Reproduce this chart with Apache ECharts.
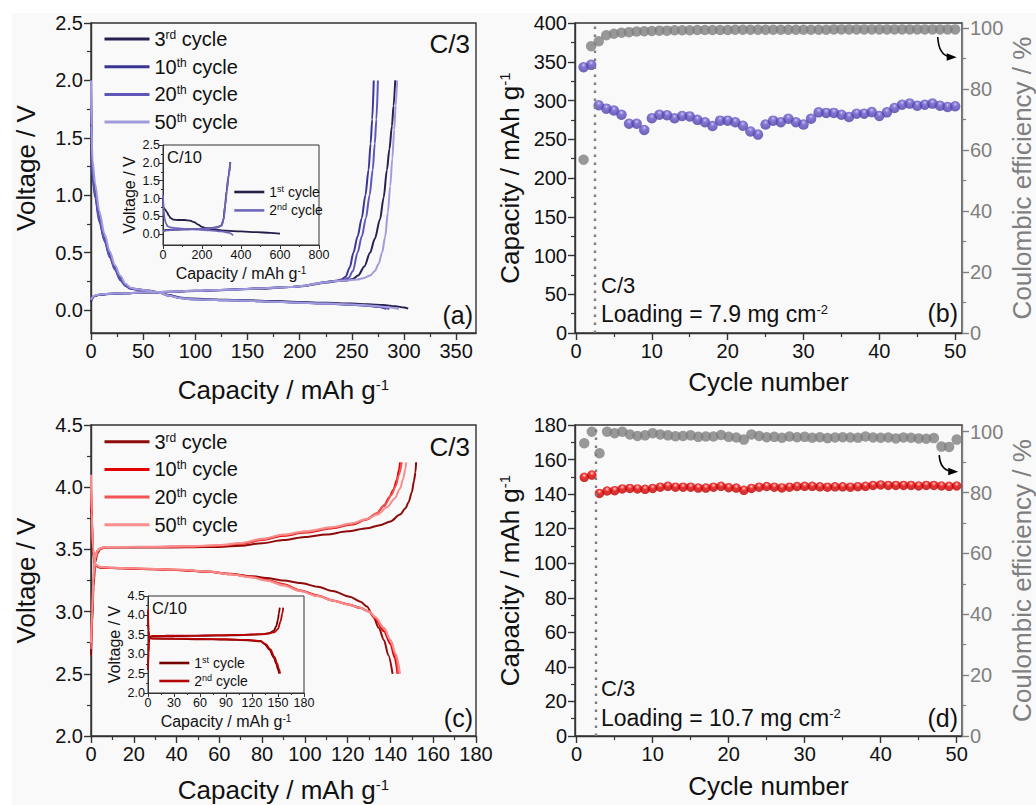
<!DOCTYPE html>
<html>
<head>
<meta charset="utf-8">
<script src="https://cdn.jsdelivr.net/npm/echarts@6/dist/echarts.min.js"></script>
<style>
html, body { margin: 0; padding: 0; background: #fff; }
#bg { position: absolute; left: 12px; top: 13px; width: 1024px; height: 792px; background: #f9f9f9; }
#main { position: absolute; left: 0; top: 0; width: 1036px; height: 805px; }
</style>
</head>
<body>
<div id="bg"></div>
<div id="main"></div>
<script>
/* 4-panel figure: voltage profiles (a,c) + cycling (b,d), insets at C/10 */

// ---- (a) anode, C/3, [capacity mAh/g, voltage V] ----
var aDis3 = [[0,2.0],[0.4,1.45],[1.5,1.2],[4,1.02],[8,0.8],[13,0.62],[18,0.48],[23,0.37],[28,0.28],[33,0.22],[38,0.19],[45,0.18],[55,0.17],[65,0.155],[75,0.13],[85,0.11],[95,0.1],[110,0.095],[130,0.09],[150,0.085],[175,0.078],[200,0.07],[225,0.063],[250,0.056],[265,0.05],[280,0.043],[292,0.033],[300,0.022],[304,0.012]];
var aChg3 = [[0,0.07],[1,0.1],[3,0.12],[7,0.13],[15,0.138],[30,0.145],[50,0.15],[75,0.158],[100,0.165],[130,0.175],[160,0.185],[190,0.2],[205,0.21],[215,0.225],[225,0.24],[235,0.25],[245,0.258],[251,0.27],[256,0.3],[262,0.38],[267.5,0.5],[272,0.62],[277,0.79],[280.5,0.98],[283.6,1.22],[286,1.4],[288.4,1.6],[290,1.78],[291.6,2.0]];
var aDis10 = [[0,2.0],[0.4,1.4],[1.5,1.15],[4,0.98],[8,0.77],[13,0.6],[18,0.46],[23,0.35],[28,0.26],[33,0.21],[38,0.185],[45,0.175],[55,0.165],[65,0.15],[75,0.125],[85,0.105],[95,0.095],[110,0.09],[130,0.085],[150,0.08],[175,0.072],[200,0.064],[225,0.056],[250,0.046],[265,0.038],[275,0.028],[283,0.01]];
var aChg10 = [[0,0.08],[1,0.105],[3,0.122],[7,0.132],[15,0.14],[30,0.146],[50,0.152],[75,0.16],[100,0.167],[130,0.177],[160,0.188],[190,0.2],[205,0.212],[215,0.23],[225,0.245],[235,0.255],[240,0.265],[244,0.29],[248,0.37],[251.5,0.5],[255.5,0.64],[259.5,0.8],[263,1.0],[266,1.22],[268,1.45],[269.5,1.66],[271,2.0]];
var aDis20 = [[0,2.0],[0.4,1.42],[1.5,1.17],[4,1.0],[8,0.79],[13,0.61],[18,0.47],[23,0.36],[28,0.27],[33,0.215],[38,0.19],[45,0.178],[55,0.167],[65,0.152],[75,0.127],[85,0.107],[95,0.097],[110,0.091],[130,0.086],[150,0.081],[175,0.073],[200,0.065],[225,0.057],[250,0.047],[268,0.036],[279,0.024],[286,0.008]];
var aChg20 = [[0,0.085],[1,0.108],[3,0.123],[7,0.133],[15,0.14],[30,0.146],[50,0.152],[75,0.16],[100,0.167],[130,0.177],[160,0.188],[190,0.2],[205,0.212],[215,0.229],[225,0.244],[235,0.254],[242,0.262],[247,0.28],[251,0.34],[255.5,0.5],[259.5,0.64],[263.5,0.8],[267,1.0],[270,1.22],[272,1.45],[273.5,1.66],[275,2.0]];
var aDis50 = [[0,2.0],[0.3,1.6],[1.5,1.3],[4,1.1],[8,0.86],[13,0.66],[18,0.51],[23,0.39],[28,0.3],[33,0.23],[38,0.195],[45,0.18],[55,0.168],[65,0.15],[75,0.125],[85,0.105],[95,0.095],[110,0.09],[130,0.085],[150,0.08],[175,0.072],[200,0.064],[225,0.056],[250,0.048],[270,0.038],[285,0.025],[295,0.008]];
var aChg50 = [[0,0.09],[1,0.11],[3,0.125],[7,0.134],[15,0.14],[30,0.146],[50,0.152],[75,0.16],[100,0.167],[130,0.176],[160,0.187],[190,0.2],[205,0.212],[215,0.228],[225,0.243],[235,0.252],[245,0.258],[255,0.265],[262,0.28],[267.6,0.3],[272,0.34],[275.6,0.4],[279,0.5],[282,0.64],[284.5,0.85],[286.8,1.08],[288.8,1.32],[290.6,1.57],[292,1.78],[293.4,2.0]];

// inset (a), C/10
var iaDis1 = [[0,1.0],[2,0.75],[10,0.7],[20,0.62],[30,0.52],[40,0.45],[55,0.41],[80,0.4],[110,0.4],[140,0.38],[160,0.34],[180,0.27],[200,0.21],[220,0.17],[245,0.14],[280,0.12],[320,0.1],[400,0.08],[480,0.06],[550,0.04],[600,0.02]];
var iaChg1 = [[0,0.1],[20,0.12],[60,0.13],[120,0.14],[180,0.15],[240,0.17],[280,0.2],[300,0.25],[310,0.4],[318,0.8],[326,1.2],[335,1.6],[345,2.02]];
var iaDis2 = [[0,1.1],[3,0.7],[8,0.45],[15,0.3],[25,0.22],[40,0.19],[70,0.17],[120,0.15],[180,0.13],[240,0.11],[300,0.08],[340,0.04],[360,-0.03]];
var iaChg2 = [[0,0.09],[20,0.11],[60,0.125],[120,0.135],[180,0.15],[240,0.165],[280,0.19],[300,0.24],[312,0.45],[320,0.85],[328,1.25],[337,1.65],[345,2.0]];

// ---- (c) cathode, C/3 ----
var cChg3 = [[0,2.65],[0.5,2.9],[1.2,3.2],[2,3.4],[3,3.47],[4.5,3.505],[7,3.515],[15,3.515],[30,3.515],[45,3.517],[60,3.52],[70,3.53],[80,3.55],[90,3.575],[100,3.6],[110,3.62],[120,3.645],[129,3.67],[135,3.695],[140,3.725],[144.5,3.78],[147,3.83],[148.5,3.88],[150,3.96],[151,4.05],[151.7,4.12],[152,4.2]];
var cDis3 = [[0,3.95],[0.3,3.7],[1,3.45],[2,3.37],[4,3.355],[10,3.35],[20,3.345],[40,3.335],[55,3.32],[65,3.305],[75,3.285],[82,3.27],[90,3.25],[98,3.23],[106,3.2],[113,3.165],[121,3.12],[126,3.08],[129,3.04],[132,2.96],[134.5,2.87],[137,2.77],[139,2.65],[141,2.5]];
var cChg10 = [[0,2.75],[0.5,3.0],[1.2,3.28],[2,3.43],[3,3.49],[4.5,3.51],[7,3.52],[15,3.52],[30,3.52],[45,3.522],[60,3.53],[70,3.545],[80,3.575],[90,3.61],[100,3.635],[113,3.67],[122,3.7],[129,3.74],[133,3.78],[137,3.85],[139.5,3.92],[141.4,3.98],[143,4.06],[144,4.14],[144.5,4.2]];
var cDis10 = [[0,4.0],[0.3,3.75],[1,3.48],[2,3.37],[4,3.355],[10,3.35],[20,3.345],[40,3.335],[55,3.32],[65,3.3],[75,3.28],[82,3.255],[90,3.22],[98,3.17],[106,3.13],[113,3.09],[120,3.06],[126,3.03],[130,3.0],[133,2.94],[137,2.84],[140,2.74],[142,2.63],[143.3,2.5]];
var cChg20 = [[0,2.7],[0.5,2.95],[1.2,3.25],[2,3.42],[3,3.48],[4.5,3.505],[7,3.518],[15,3.518],[30,3.52],[45,3.523],[60,3.532],[70,3.548],[80,3.58],[90,3.615],[100,3.64],[113,3.675],[122,3.705],[129,3.745],[133.5,3.79],[137.5,3.86],[140.5,3.94],[142.5,4.01],[144,4.1],[145.3,4.2]];
var cDis20 = [[0,4.05],[0.3,3.78],[1,3.5],[2,3.375],[4,3.357],[10,3.352],[20,3.347],[40,3.337],[55,3.322],[65,3.302],[75,3.278],[82,3.252],[90,3.215],[98,3.165],[106,3.125],[113,3.087],[120,3.057],[126,3.028],[130,3.0],[133,2.95],[137,2.86],[140,2.77],[142.5,2.65],[143.7,2.5]];
var cChg50 = [[0,2.75],[0.5,3.0],[1.2,3.3],[2,3.44],[3,3.49],[4.5,3.51],[7,3.52],[15,3.52],[30,3.522],[45,3.525],[60,3.535],[70,3.552],[80,3.585],[90,3.62],[100,3.645],[113,3.68],[122,3.71],[129,3.745],[134,3.78],[138.5,3.84],[142,3.91],[144.5,3.99],[146,4.07],[147,4.15],[147.4,4.2]];
var cDis50 = [[0,4.1],[0.3,3.8],[1,3.5],[2,3.38],[4,3.36],[10,3.353],[20,3.348],[40,3.338],[55,3.322],[65,3.3],[75,3.275],[82,3.25],[90,3.21],[98,3.165],[106,3.125],[113,3.09],[120,3.058],[126,3.03],[130,3.0],[133,2.955],[137,2.87],[140,2.77],[142.5,2.66],[144.5,2.5]];

// inset (c), C/10
var icChg1 = [[0,2.6],[0.5,3.0],[1,3.3],[2,3.44],[5,3.46],[20,3.465],[50,3.47],[80,3.48],[110,3.495],[130,3.51],[140,3.54],[145,3.6],[148,3.72],[150,3.9],[151,4.05],[152,4.2]];
var icDis1 = [[0,4.1],[0.5,3.6],[1.5,3.42],[5,3.4],[30,3.395],[60,3.385],[90,3.375],[115,3.36],[130,3.33],[135,3.25],[140,3.12],[145,2.92],[148,2.75],[150,2.6],[151.5,2.5]];
var icChg2 = [[0,2.6],[0.5,3.05],[1,3.35],[2,3.45],[5,3.47],[20,3.475],[50,3.48],[80,3.49],[110,3.5],[130,3.515],[140,3.535],[146,3.57],[150,3.65],[153,3.85],[155,4.05],[156,4.2]];
var icDis2 = [[0,4.15],[0.5,3.6],[1.5,3.43],[5,3.41],[30,3.405],[60,3.395],[90,3.385],[115,3.37],[130,3.34],[136,3.26],[141,3.13],[146,2.93],[149,2.76],[151,2.62],[152.5,2.5]];

// ---- (b), (d) cycling ----
var cycles = [1,2,3,4,5,6,7,8,9,10,11,12,13,14,15,16,17,18,19,20,21,22,23,24,25,26,27,28,29,30,31,32,33,34,35,36,37,38,39,40,41,42,43,44,45,46,47,48,49,50];
var capB = [343,346,293.8,289.5,287,281.7,270,270,262,277,281.7,281,277,280,279.5,275,272,267,274,274,272,267.5,260,256,269,274,272,276.5,272,269,276.5,284.7,284,284,281.7,278.7,283,283,285,280,284.7,290.3,294.6,296,293.3,294.6,296,293.3,291.6,292.5];
var ceB = [56.8,94.0,95.6,97.6,98.1,98.4,98.6,98.8,98.9,99.0,99.1,99.1,99.2,99.2,99.2,99.3,99.3,99.3,99.3,99.3,99.4,99.4,99.4,99.4,99.4,99.4,99.4,99.4,99.4,99.4,99.4,99.4,99.4,99.5,99.5,99.5,99.5,99.5,99.5,99.5,99.5,99.5,99.5,99.5,99.5,99.5,99.5,99.5,99.5,99.5];
var capD = [149.7,151,140.4,141.8,142,143,143.3,143,142.8,143.3,144,144.5,144,144,144,143.5,143.5,144,144.5,143.7,143.5,142.2,143.3,144,144.4,144,143.6,144,144.4,144.5,144.5,144.2,144,144.2,144.2,144,144.3,144.5,145,145.3,145,145,145,145,144.7,145,145,144.7,144.5,144.7];
var ceD = [96.2,100,92.9,100,99.5,100,99.1,98.6,98.8,99.5,99.1,98.8,98.5,98.6,98.8,98.3,98.4,98.4,98.9,98.3,98.1,97.4,99.1,98.6,98.2,98.3,98.0,98.4,98.2,98.3,98.0,98.2,97.9,98.1,98.2,98.1,98.0,98.4,98.1,98.0,98.1,97.8,98.1,98.0,97.8,97.7,97.9,95.1,95.0,97.4];
var rateSwitch = 2.5;               // C/10 -> C/3
var arrowB = [[47.7, 97.0], [50.2, 90.4]];
var arrowD = [[47.7, 92.3], [50.2, 86.8]];

// ---- tick values ----
var tAx = [0,50,100,150,200,250,300,350], mAx = [25,75,125,175,225,275,325];
var tVa = [0,0.5,1,1.5,2,2.5], mVa = [0.25,0.75,1.25,1.75,2.25];
var tCyc = [0,10,20,30,40,50], mCyc = [5,15,25,35,45];
var tBy = [0,50,100,150,200,250,300,350,400], mBy = [25,75,125,175,225,275,325,375];
var tCE = [0,20,40,60,80,100], mCE = [10,30,50,70,90];
var tCx = [0,20,40,60,80,100,120,140,160,180], mCx = [10,30,50,70,90,110,130,150,170];
var tVc = [2,2.5,3,3.5,4,4.5], mVc = [2.25,2.75,3.25,3.75,4.25];
var tDy = [0,20,40,60,80,100,120,140,160,180], mDy = [10,30,50,70,90,110,130,150,170];
var tIAx = [0,200,400,600,800], mIAx = [100,300,500,700];
var tICx = [0,30,60,90,120,150,180], mICx = [15,45,75,105,135,165];

var legendText = {
    a3: '3{s|rd} cycle', a10: '10{s|th} cycle', a20: '20{s|th} cycle', a50: '50{s|th} cycle',
    c3: '3{s|rd} cycle', c10: '10{s|th} cycle', c20: '20{s|th} cycle', c50: '50{s|th} cycle',
    ia1: '1{s|st} cycle', ia2: '2{s|nd} cycle', ic1: '1{s|st} cycle', ic2: '2{s|nd} cycle'
};

var FONT = "'Liberation Sans', Arial, Helvetica, sans-serif";
var INK = '#111111';
var FRAME = '#333333';
var GREY = '#7f7f7f';

var chart = echarts.init(document.getElementById('main'), null, {renderer: 'svg'});

var grids = [
    {left: 91, top: 23, width: 385, height: 310},
    {left: 575, top: 23, width: 387, height: 310},
    {left: 91, top: 425, width: 385, height: 311},
    {left: 575, top: 425, width: 387, height: 311},
    {left: 163, top: 145, width: 156, height: 100, borderWidth: 1},
    {left: 148, top: 596, width: 156, height: 97, borderWidth: 1}
].map(function (g) {
    return Object.assign({show: true, borderColor: FRAME, borderWidth: 1.4, backgroundColor: 'transparent',
        containLabel: false, outerBoundsMode: 'none'}, g);
});

var xAxes = [], yAxes = [];
function fix1(v) { return v.toFixed(1); }

// one axis with major ticks/labels + a twin that only draws minor ticks
function addAxis(list, o) {
    var big = !o.inset;
    var color = o.color || INK;
    var lineColor = o.color || FRAME;
    var idx = list.length;
    list.push({
        type: 'value', gridIndex: o.grid, position: o.pos, min: o.min, max: o.max,
        name: o.name || '', nameLocation: 'middle', nameGap: o.gap, nameRotate: o.rotate,
        nameTextStyle: {
            fontFamily: FONT, fontSize: big ? 26 : 16, color: color, padding: o.pad || 0,
            rich: {s: {fontFamily: FONT, fontSize: big ? 15 : 10, color: color, verticalAlign: 'top'}}
        },
        axisLine: {show: true, onZero: false, lineStyle: {color: lineColor, width: big ? 1.4 : 1}},
        axisTick: {show: true, inside: false, length: big ? 7 : 4, customValues: o.major,
            lineStyle: {color: lineColor, width: big ? 1.4 : 1}},
        axisLabel: {show: true, customValues: o.major, margin: big ? 8 : 3, fontFamily: FONT,
            fontSize: big ? 20 : 12.5, color: color, formatter: o.fmt},
        splitLine: {show: false}
    });
    list.push({
        type: 'value', gridIndex: o.grid, position: o.pos, min: o.min, max: o.max,
        axisLine: {show: false, onZero: false}, axisLabel: {show: false}, splitLine: {show: false},
        axisTick: {show: true, inside: false, length: big ? 4 : 2, customValues: o.minor,
            lineStyle: {color: lineColor, width: big ? 1.2 : 1}}
    });
    return idx;
}

var CAP = 'Capacity / mAh g{s|-1}';
var ax = addAxis(xAxes, {grid: 0, pos: 'bottom', min: 0, max: 369, major: tAx, minor: mAx, name: CAP, gap: 44});
var ay = addAxis(yAxes, {grid: 0, pos: 'left', min: -0.2, max: 2.5, major: tVa, minor: mVa, name: 'Voltage / V', gap: 52, rotate: 90, fmt: fix1, pad: [0, 0, 0, 20]});
var bx = addAxis(xAxes, {grid: 1, pos: 'bottom', min: -0.13, max: 50.9, major: tCyc, minor: mCyc, name: 'Cycle number', gap: 36});
var by = addAxis(yAxes, {grid: 1, pos: 'left', min: 0, max: 400, major: tBy, minor: mBy, name: CAP, gap: 52, rotate: 90});
var by2 = addAxis(yAxes, {grid: 1, pos: 'right', min: 0, max: 101.6, major: tCE, minor: mCE, name: 'Coulombic efficiency / %', gap: 47, rotate: 90, color: GREY});
var cx = addAxis(xAxes, {grid: 2, pos: 'bottom', min: 0, max: 180, major: tCx, minor: mCx, name: CAP, gap: 41});
var cy = addAxis(yAxes, {grid: 2, pos: 'left', min: 2, max: 4.5, major: tVc, minor: mVc, name: 'Voltage / V', gap: 52, rotate: 90, fmt: fix1});
var dx = addAxis(xAxes, {grid: 3, pos: 'bottom', min: -0.22, max: 50.7, major: tCyc, minor: mCyc, name: 'Cycle number', gap: 37});
var dy = addAxis(yAxes, {grid: 3, pos: 'left', min: 0, max: 180, major: tDy, minor: mDy, name: CAP, gap: 52, rotate: 90});
var dy2 = addAxis(yAxes, {grid: 3, pos: 'right', min: 0, max: 102.2, major: tCE, minor: mCE, name: 'Coulombic efficiency / %', gap: 47, rotate: 90, color: GREY});
var iax = addAxis(xAxes, {grid: 4, pos: 'bottom', min: 0, max: 800, major: tIAx, minor: mIAx, name: CAP, gap: 20, inset: true});
var iay = addAxis(yAxes, {grid: 4, pos: 'left', min: -0.3, max: 2.5, major: tVa, minor: mVa, name: 'Voltage / V', gap: 26, rotate: 90, fmt: fix1, inset: true});
var icx = addAxis(xAxes, {grid: 5, pos: 'bottom', min: 0, max: 180, major: tICx, minor: mICx, name: CAP, gap: 20, inset: true});
var icy = addAxis(yAxes, {grid: 5, pos: 'left', min: 2, max: 4.5, major: tVc, minor: mVc, name: 'Voltage / V', gap: 26, rotate: 90, fmt: fix1, inset: true});

var series = [];
function curve(name, data, xi, yi, color, w) {
    series.push({
        type: 'line', name: name, data: data, xAxisIndex: xi, yAxisIndex: yi,
        symbol: 'none', showSymbol: false, smooth: 0.3, smoothMonotone: 'x', silent: true,
        lineStyle: {color: color, width: w || 2}, itemStyle: {color: color}, z: 3
    });
}

// (a)
curve('a3', aDis3, ax, ay, '#26214f'); curve('a3', aChg3, ax, ay, '#26214f');
curve('a10', aDis10, ax, ay, '#3b3596'); curve('a10', aChg10, ax, ay, '#3b3596');
curve('a20', aDis20, ax, ay, '#5f57b8'); curve('a20', aChg20, ax, ay, '#5f57b8');
curve('a50', aDis50, ax, ay, '#a19bdc'); curve('a50', aChg50, ax, ay, '#a19bdc');
curve('ia1', iaDis1, iax, iay, '#231f47', 1.8); curve('ia1', iaChg1, iax, iay, '#231f47', 1.8);
curve('ia2', iaDis2, iax, iay, '#6e66bb', 1.8); curve('ia2', iaChg2, iax, iay, '#6e66bb', 1.8);
// (c)
curve('c3', cChg3, cx, cy, '#8e0b0b'); curve('c3', cDis3, cx, cy, '#8e0b0b');
curve('c10', cChg10, cx, cy, '#e30000'); curve('c10', cDis10, cx, cy, '#e30000');
curve('c20', cChg20, cx, cy, '#f25353'); curve('c20', cDis20, cx, cy, '#f25353');
curve('c50', cChg50, cx, cy, '#fa8c8c'); curve('c50', cDis50, cx, cy, '#fa8c8c');
curve('ic1', icChg1, icx, icy, '#760000', 1.8); curve('ic1', icDis1, icx, icy, '#760000', 1.8);
curve('ic2', icChg2, icx, icy, '#b50606', 1.8); curve('ic2', icDis2, icx, icy, '#b50606', 1.8);

function ball(c0, c1, c2, c3) {
    return new echarts.graphic.RadialGradient(0.5, 0.3, 0.62, [
        {offset: 0, color: c0}, {offset: 0.16, color: c1}, {offset: 0.4, color: c2}, {offset: 1, color: c3}]);
}
function pairs(xs, ys) { return xs.map(function (x, i) { return [x, ys[i]]; }); }
var dotted = function () {
    return {silent: true, symbol: ['none', 'none'], label: {show: false},
        lineStyle: {color: GREY, width: 2.4, type: [2.5, 5.5]}, data: [{xAxis: rateSwitch}]};
};

series.push({type: 'scatter', name: 'capB', data: pairs(cycles, capB), xAxisIndex: bx, yAxisIndex: by,
    symbolSize: 10.5, itemStyle: {color: ball('#d6d1f4', '#8a7fdc', '#6354c6', '#4e40aa')}, markLine: dotted(), z: 3});
series.push({type: 'scatter', name: 'ceB', data: pairs(cycles, ceB), xAxisIndex: bx, yAxisIndex: by2,
    symbolSize: 10.5, itemStyle: {color: GREY}, z: 4});
series.push({type: 'scatter', name: 'capD', data: pairs(cycles, capD), xAxisIndex: dx, yAxisIndex: dy,
    symbolSize: 9.5, itemStyle: {color: ball('#ffd6d6', '#ff6a6a', '#e00000', '#c20000')}, markLine: dotted(), z: 3});
series.push({type: 'scatter', name: 'ceD', data: pairs(cycles, ceD), xAxisIndex: dx, yAxisIndex: dy2,
    symbolSize: 10.5, itemStyle: {color: GREY}, z: 4});
var ceBIdx = series.length - 3, ceDIdx = series.length - 1;

function legend(names, left, top, o) {
    return {
        data: names, orient: 'vertical', left: left, top: top, padding: 0, selectedMode: false,
        itemWidth: o.w, itemHeight: o.h, itemGap: o.gap,
        formatter: function (n) { return legendText[n]; },
        itemStyle: {opacity: 0},
        lineStyle: {width: o.lw},
        textStyle: {fontFamily: FONT, fontSize: o.fs, color: INK, lineHeight: o.h,
            rich: {s: {fontFamily: FONT, fontSize: o.ss, color: INK, verticalAlign: 'top'}}}
    };
}
var bigLeg = {w: 45, h: 20, gap: 7.7, lw: 3, fs: 20, ss: 12};
var smallLeg = {w: 30, h: 15, gap: 3, lw: 2.6, fs: 14, ss: 9};

function label(x, y, text, size, align, extraRich) {
    return {
        type: 'text', x: x, y: y, silent: true, z: 10,
        style: {text: text, fontFamily: FONT, fontSize: size, fill: INK, align: align, verticalAlign: 'middle',
            rich: {s: {fontFamily: FONT, fontSize: extraRich || 13, fill: INK, verticalAlign: 'top'}}}
    };
}

chart.setOption({
    animation: false,
    grid: grids,
    xAxis: xAxes,
    yAxis: yAxes,
    legend: [
        legend(['a3', 'a10', 'a20', 'a50'], 103, 29, bigLeg),
        legend(['c3', 'c10', 'c20', 'c50'], 103, 431.7, bigLeg),
        Object.assign(legend(['ia1', 'ia2'], 233, 184.5, smallLeg), {itemGap: 3.4}),
        legend(['ic1', 'ic2'], 158, 655.5, smallLeg)
    ],
    series: series,
    graphic: {elements: [
        label(470, 44, 'C/3', 26, 'right'),
        label(473, 315, '(a)', 25, 'right'),
        label(601, 285, 'C/3', 22, 'left'),
        label(601, 314, 'Loading = 7.9 mg cm{s|-2}', 23, 'left'),
        label(958, 313, '(b)', 25, 'right'),
        label(470, 447, 'C/3', 26, 'right'),
        label(473, 718, '(c)', 25, 'right'),
        label(601, 688, 'C/3', 22, 'left'),
        label(601, 718, 'Loading = 10.7 mg cm{s|-2}', 23, 'left'),
        label(958, 718, '(d)', 25, 'right'),
        label(167, 157, 'C/10', 16.5, 'left'),
        label(152, 608, 'C/10', 16.5, 'left')
    ]}
});

// curved arrows pointing to the CE (right) axis
function arrow(id, si, ends) {
    var p = chart.convertToPixel({seriesIndex: si}, ends[0]);
    var q = chart.convertToPixel({seriesIndex: si}, ends[1]);
    return [
        {type: 'bezierCurve', id: id + 'c', silent: true, z: 10,
            shape: {x1: p[0], y1: p[1], x2: q[0] - 7, y2: q[1] - 0.5, cpx1: p[0] + 1, cpy1: q[1] - 2},
            style: {stroke: '#000', lineWidth: 1.6, fill: null}},
        {type: 'polygon', id: id + 'h', silent: true, z: 10,
            shape: {points: [[q[0], q[1]], [q[0] - 10, q[1] - 4], [q[0] - 10, q[1] + 3.5]]},
            style: {fill: '#000'}}
    ];
}
chart.setOption({graphic: {elements: arrow('ab', ceBIdx, arrowB).concat(arrow('ad', ceDIdx, arrowD))}});
</script>
</body>
</html>
